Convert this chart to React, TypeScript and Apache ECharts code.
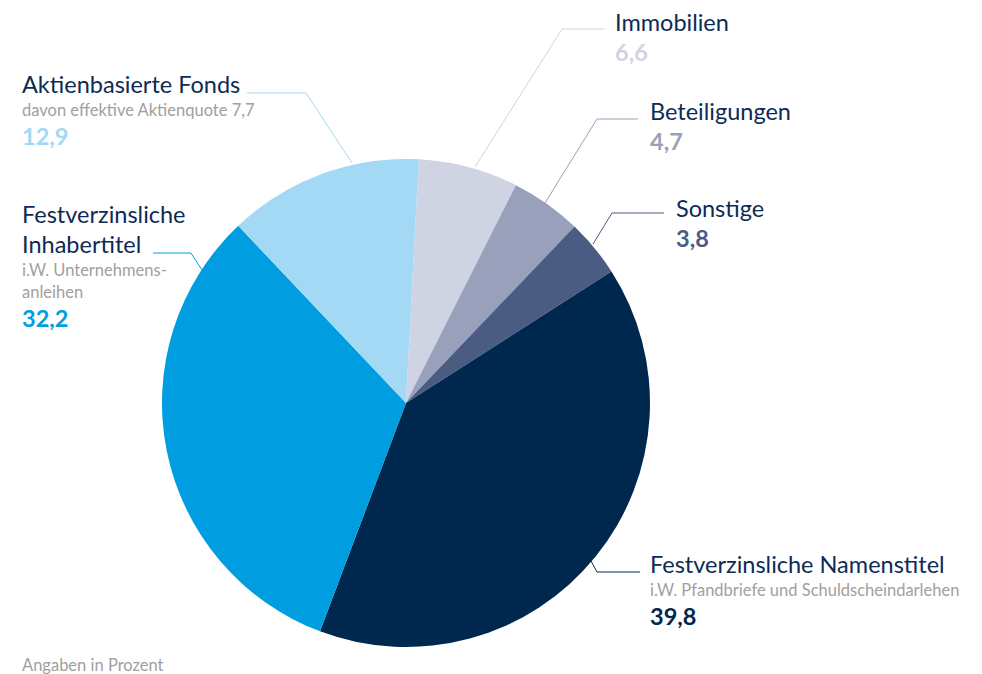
import React, { useEffect, useRef } from "react";
import * as echarts from "echarts";

const names = [
  "Immobilien",
  "Beteiligungen",
  "Sonstige",
  "Festverzinsliche Namenstitel",
  "Festverzinsliche\nInhabertitel",
  "Aktienbasierte Fonds",
];
const values = [6.6, 4.7, 3.8, 39.8, 32.2, 12.9];
const notes = [
  "",
  "",
  "",
  "i.W. Pfandbriefe und Schuldscheindarlehen",
  "i.W. Unternehmens-\nanleihen",
  "davon effektive Aktienquote 7,7",
];
const colors = ["#d0d3e2", "#99a0bb", "#4b5c83", "#00284f", "#009ee0", "#a3d9f5"];
const footnote = "Angaben in Prozent";

// label layout (top-left of each label block) and leader line points
const labelPos = [
  [615, 7],
  [650, 96],
  [676, 193],
  [650, 549],
  [22, 199],
  [22, 69],
];
const linePts = [
  [[475, 167], [562, 29], [604, 29]],
  [[545, 203], [597, 119], [638, 119]],
  [[593, 244], [612, 213], [664, 213]],
  [[591, 561], [597, 572], [640, 572]],
  [[202, 270], [191, 253], [153, 253]],
  [[352, 163], [306, 93], [247, 93]],
];

const FONT = "Lato, 'Open Sans', sans-serif";

export default function App() {
  const ref = useRef<HTMLDivElement>(null);
  useEffect(() => {
    if (!ref.current) return;
    const chart = echarts.init(ref.current, undefined, { renderer: "svg" });
    const data = names.map((n, i) => ({
      name: n,
      value: values[i],
      itemStyle: { color: colors[i] },
      labelLine: { lineStyle: { color: colors[i], width: 1 } },
    }));
    const fmt = (i: number) => {
      const t = names[i].split("\n").map((l) => `{t|${l}}`).join("\n");
      const s = notes[i]
        ? "\n" + notes[i].split("\n").map((l) => `{s|${l}}`).join("\n")
        : "";
      const v = `\n{v${i}|${values[i].toFixed(1).replace(".", ",")}}`;
      return t + s + v;
    };
    const rich: any = {
      t: { fontSize: 23.5, lineHeight: 30, color: "#0d2b55", fontFamily: FONT },
      s: { fontSize: 16.5, lineHeight: 22, color: "#a0a0a0", fontFamily: FONT },
    };
    colors.forEach((c, i) => {
      rich["v" + i] = {
        fontSize: 23.5,
        lineHeight: 30,
        fontWeight: "bold",
        color: c,
        fontFamily: FONT,
      };
    });
    chart.setOption({
      animation: false,
      title: {
        text: footnote,
        left: 22,
        top: 656,
        padding: 0,
        textStyle: { fontSize: 16.5, color: "#a0a0a0", fontWeight: "normal", fontFamily: FONT },
      },
      series: [
        {
          type: "pie",
          center: [406, 403],
          radius: 244,
          startAngle: 87,
          clockwise: true,
          silent: true,
          emphasis: { disabled: true },
          data,
          label: {
            show: true,
            position: "outside",
            formatter: (p: any) => fmt(p.dataIndex),
            rich,
            align: "left",
            overflow: "none",
          },
          labelLine: { show: true, length: 20, length2: 20 },
          labelLayout: (p: any) => ({
            x: labelPos[p.dataIndex][0],
            y: labelPos[p.dataIndex][1],
            align: "left",
            verticalAlign: "top",
            labelLinePoints: linePts[p.dataIndex],
          }),
        },
      ],
    });
    return () => chart.dispose();
  }, []);
  return (
    <div
      ref={ref}
      style={{ position: "absolute", left: 0, top: 0, width: 982, height: 674 }}
    />
  );
}
